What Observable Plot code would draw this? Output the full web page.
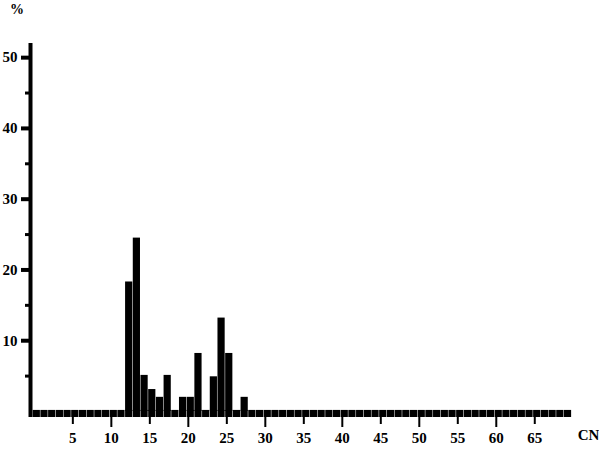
<!DOCTYPE html>
<html>
<head>
<meta charset="utf-8">
<script src="https://cdn.jsdelivr.net/npm/d3@7"></script>
<script src="https://cdn.jsdelivr.net/npm/@observablehq/plot@0.6"></script>
<style>
  html, body { margin: 0; padding: 0; background: #fff; }
  #chart { position: relative; width: 599px; height: 452px; }
  .ylab { position: absolute; left: 10px; top: 2px; z-index: 2; font: bold 14px "Liberation Serif", serif; }
</style>
</head>
<body>
<div id="chart"><div class="ylab">%</div></div>
<script>
// Carbon numbers with visible peaks and their percentages
const peakCarbons = [12, 13, 14, 15, 16, 17, 19, 20, 21, 23, 24, 25, 27];
const peakPercent = [18.3, 24.5, 5.1, 3.1, 2.0, 5.1, 2.0, 2.0, 8.2, 4.9, 13.2, 8.2, 2.0];
// All carbon numbers shown along the baseline
const allCarbons = d3.range(0, 70);
// Tick labels
const xTickLabels = [5, 10, 15, 20, 25, 30, 35, 40, 45, 50, 55, 60, 65];
const xMajorTicks = [10, 20, 30, 40, 50, 60];
const xMinorTicks = [5, 15, 25, 35, 45, 55, 65];
const yTickLabels = [10, 20, 30, 40, 50];
const yMinorTicks = [5, 15, 25, 35, 45];

const peaks = peakCarbons.map((c, i) => ({c, v: peakPercent[i]}));
const base = allCarbons.map(c => ({c}));

const font = "Liberation Serif, serif";
const chart = Plot.plot({
  width: 599,
  height: 452,
  marginLeft: 30,
  marginRight: 27,
  marginTop: 43,
  marginBottom: 35,
  style: {fontFamily: font, fontWeight: "bold", fontSize: "15px", color: "#000", background: "#fff"},
  x: {domain: [-0.5, 69.9], axis: null},
  y: {domain: [-0.85, 52], axis: null},
  marks: [
    // baseline segments
    Plot.rectY(base, {x1: d => d.c - 0.15, x2: d => d.c + 0.85, y1: -0.85, y2: 0.15, fill: "#000", insetRight: 0.5}),
    // peaks
    Plot.rectY(peaks, {x1: d => d.c - 0.15, x2: d => d.c + 0.85, y1: 0, y2: "v", fill: "#000", insetRight: 0.5}),
    // y axis line
    Plot.ruleX([-0.5], {y1: -0.85, y2: 52, stroke: "#000", strokeWidth: 4}),
    Plot.axisY({ticks: yTickLabels, tickSize: 9, tickPadding: 4, strokeWidth: 4, label: null, anchor: "left", fontSize: 15}),
    Plot.axisY({ticks: yMinorTicks, tickSize: 5, strokeWidth: 3, text: null, label: null, anchor: "left"}),
    Plot.axisX({ticks: xMajorTicks, tickSize: 10, strokeWidth: 2, text: null, label: null, anchor: "bottom"}),
    Plot.axisX({ticks: xMinorTicks, tickSize: 7, strokeWidth: 2, text: null, label: null, anchor: "bottom"}),
    Plot.axisX({ticks: xTickLabels, tickSize: 0, tickPadding: 15, label: null, anchor: "bottom", fontSize: 15}),
    Plot.text(["CN"], {x: 69.9, y: -0.85, frameAnchor: "bottom", dx: 16, dy: 22, fontSize: 15, fontWeight: "bold", textAnchor: "middle"})
  ]
});
document.getElementById("chart").appendChild(chart);
chart.style.position = "absolute";
chart.style.left = "0";
chart.style.top = "0";
</script>
</body>
</html>
